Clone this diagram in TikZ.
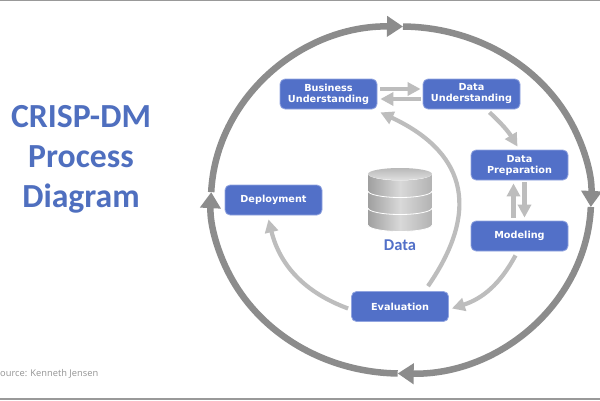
\documentclass[tikz,border=0pt]{standalone}
\usepackage{fontspec}
\setmainfont{DejaVu Sans}
\newfontfamily\titlefont{Carlito}
\newfontfamily\sourcefont{Open Sans}
\usetikzlibrary{arrows.meta}
\definecolor{stepblue}{HTML}{5270C8}
\definecolor{stepedge}{HTML}{92A5E0}
\definecolor{titleblue}{HTML}{4F6FBF}
\definecolor{ringgray}{HTML}{8C8C8C}
\definecolor{flowgray}{HTML}{BDBDBD}
\tikzset{
  stepbox/.style={draw=stepedge, fill=stepblue, line width=.8, rounded corners=5,
    minimum width=97, minimum height=30, inner sep=0, align=center, text=white,
    font=\bfseries\fontsize{9.7}{11}\selectfont},
  flow/.style={draw=flowgray, line width=4.2, -{Triangle[length=13,width=13]}},
  ring/.style={draw=ringgray, line width=6.5, -{Triangle[length=16,width=20]}},
  title/.style={text=titleblue, inner sep=0, font=\titlefont\bfseries\fontsize{33.7}{40}\selectfont, align=center}
}
\begin{document}
\begin{tikzpicture}[x=1pt,y=1pt]
\useasboundingbox (0,0) rectangle (600,400);
\fill [white] (0,0) rectangle (600,400);

% frame lines
\draw [gray!80, line width=1.6] (0,399.5)--(600,399.5);
\draw [gray!80, line width=1.6] (0,1)--(600,1);

% title and source
\node [title] (heading) at (81,241) {CRISP-DM\\Process\\Diagram};
\node [right, inner sep=0, text=gray!85, font=\sourcefont\fontsize{9.3}{11}\selectfont] (source) at (0,26) {ource: Kenneth Jensen};

% outer ring
\foreach \from/\to in {177.4/89.4, 89.4/-2.3, -2.3/-91, -91/-182.6}
  \draw [ring] ({401+190*cos(\from)},{200+173.5*sin(\from)})
    arc [start angle=\from, end angle=\to, x radius=190, y radius=173.5];

% steps
\node [stepbox] (business) at (328.5,306) {Business\\Understanding};
\node [stepbox] (understanding) at (471.5,306) {Data\\Understanding};
\node [stepbox] (preparation) at (519.5,235) {Data\\Preparation};
\node [stepbox] (modeling) at (519.5,164) {Modeling};
\node [stepbox] (evaluation) at (400,93.5) {Evaluation};
\node [stepbox] (deployment) at (273.5,200) {Deployment};

% data store
\foreach \y in {192,209,226} {
  \shade [left color=gray!75, right color=gray!60, middle color=gray!30]
    (368,\y) -- (368,\y-17) arc [start angle=180, end angle=360, x radius=32, y radius=6.5]
    -- (432,\y) arc [start angle=0, end angle=-180, x radius=32, y radius=6.5] -- cycle;
  \draw [white, line width=.8] (368,\y-17) arc [start angle=180, end angle=360, x radius=32, y radius=6.5];
}
\shade [top color=gray!55, bottom color=gray!25] (400,226) ellipse [x radius=32, y radius=6];
\node [text=stepblue, font=\titlefont\bfseries\fontsize{16.5}{18}\selectfont] (data) at (400,155) {Data};

% flows
\draw [flow] ([xshift=3,yshift=5]business.east) -- ([xshift=-2,yshift=5]understanding.west);
\draw [flow] ([xshift=-2,yshift=-5]understanding.west) -- ([xshift=3,yshift=-5]business.east);
\draw [flow] ([xshift=18,yshift=-3]understanding.south) to [bend left=8] ([xshift=-2,yshift=3]preparation.north);
\draw [flow] ([xshift=5,yshift=-2]preparation.south) -- ([xshift=5,yshift=3]modeling.north);
\draw [flow] ([xshift=-6,yshift=3]modeling.north) -- ([xshift=-6,yshift=-3]preparation.south);
\draw [flow] ([xshift=-4,yshift=-4]modeling.south) to [bend left=22] ([xshift=3,yshift=-2]evaluation.east);
\draw [flow] ([xshift=28,yshift=5]evaluation.north) .. controls (484,195) and (461,250) .. ([xshift=3,yshift=-3]business.south east);
\draw [flow] ([xshift=-3,yshift=-2]evaluation.west) to [bend left=28] ([xshift=-5,yshift=-4]deployment.south);
\end{tikzpicture}
\end{document}
